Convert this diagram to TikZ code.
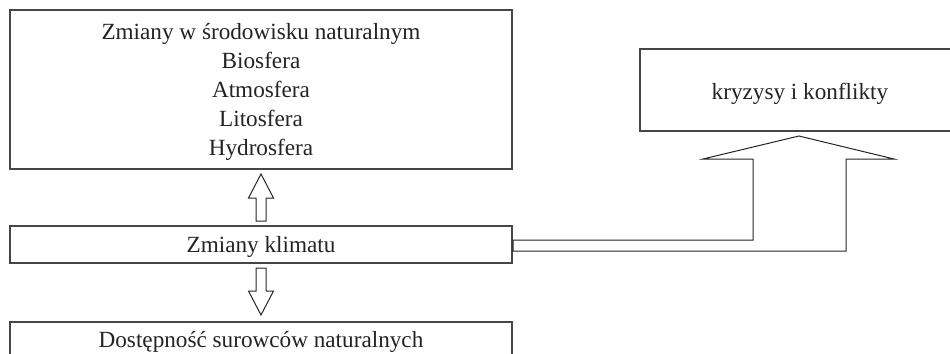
\documentclass[tikz,border=0pt]{standalone}
\usepackage{fontspec}
\setmainfont{Liberation Serif}
\usepackage{tikz}
\usetikzlibrary{positioning,calc}
\definecolor{framegrey}{RGB}{70,70,70}
\definecolor{textgrey}{RGB}{35,35,35}
\tikzset{
    box/.style={
        draw=framegrey,
        line width=0.7pt,
        align=center,
        text=textgrey,
        inner sep=0pt,
        outer sep=0pt,
        font=\fontsize{11.6}{14.4}\selectfont
    },
    frame/.style={
        draw=framegrey,
        line width=0.7pt
    },
    hollow/.style={
        draw=black!85,
        line width=0.5pt,
        fill=white,
        line join=miter
    }
}

\begin{document}
\begin{tikzpicture}[x=0.5pt,y=-0.5pt]
\useasboundingbox (0,0) rectangle (950,354);
\clip (0,0) rectangle (950,354);

% Boxes on the left
\node[box, minimum width=251pt, text height=72.5pt, text depth=7pt] (srodowisko) at (261,89.5)
{Zmiany w środowisku naturalnym\\ Biosfera\\ Atmosfera\\ Litosfera\\ Hydrosfera};

\node[box, minimum width=251pt, text height=13pt, text depth=5.5pt] (klimat) at (261,244.5)
{Zmiany klimatu};

\node[box, minimum width=251pt, anchor=north, text height=12.5pt, text depth=24pt] (surowce) at (261,322)
{Dostępność surowców naturalnych};

% Box on the right (runs off the page edge)
\node[box, draw=none, minimum width=160pt, minimum height=41pt, text height=9pt, text depth=0pt] (kryzysy) at (800,90)
{kryzysy i konflikty};
\draw[frame] (kryzysy.north east) -- (kryzysy.north west) -- (kryzysy.south west) -- (kryzysy.south east);

% Small block arrows
\draw[hollow] (klimat.north) ++(-5,-5) -- ++(0,-23) -- ++(-7.5,0) -- ++(12.5,-24)
    -- ++(12.5,24) -- ++(-7.5,0) -- ++(0,23) -- cycle;
\draw[hollow] (klimat.south) ++(-5,5) -- ++(0,23) -- ++(-7.5,0) -- ++(12.5,24)
    -- ++(12.5,-24) -- ++(-7.5,0) -- ++(0,-23) -- cycle;

% Bent block arrow
\coordinate (tip) at ($(kryzysy.south)+(-1,5)$);
\draw[hollow] ($(klimat.east)+(1,-4.5)$) -| ($(tip)+(-46,23)$) -- ++(-50,0) -- (tip)
    -- ++(95,23) -- ++(-48,0) |- ($(klimat.east)+(1,6.5)$) -- cycle;

\end{tikzpicture}
\end{document}
